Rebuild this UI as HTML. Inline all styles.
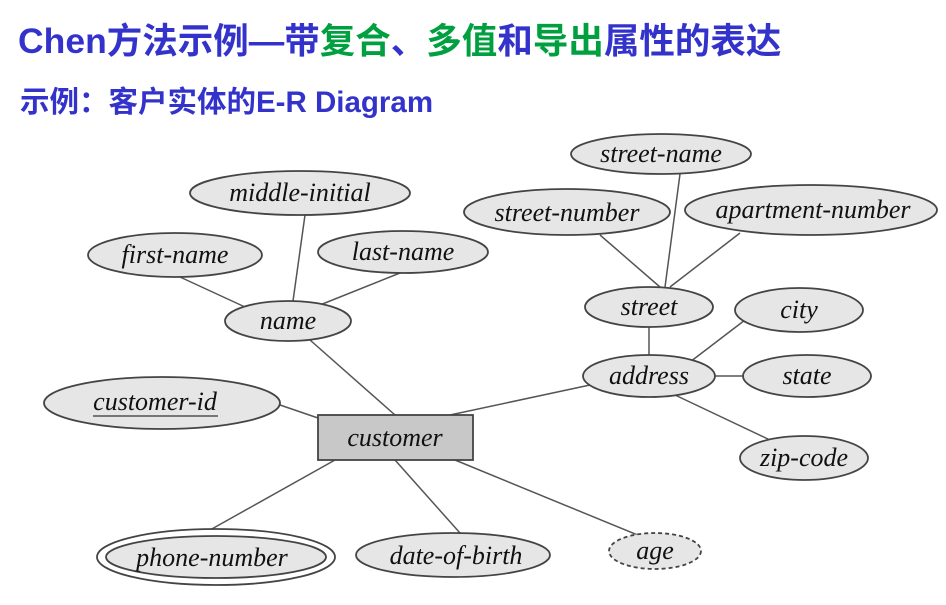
<!DOCTYPE html>
<html><head><meta charset="utf-8"><style>
body{margin:0;width:946px;height:605px;background:#fff;overflow:hidden;position:relative;font-family:"Liberation Sans","Noto Sans CJK SC",sans-serif}
.t1{position:absolute;left:18px;top:13px;font-size:35.5px;font-weight:bold;color:#3333cc;white-space:nowrap}
.g{color:#00a040}
.t2{position:absolute;left:20px;top:79px;font-size:29.5px;font-weight:bold;color:#3333cc;white-space:nowrap}
svg{position:absolute;left:0;top:0}
svg text{font-family:"Liberation Serif",serif;font-style:italic;font-size:26px;fill:#111;text-anchor:middle}
</style></head><body>
<div class="t1">Chen方法示例—带<span class="g">复合</span>、<span class="g">多值</span>和<span class="g">导出</span>属性的表达</div>
<div class="t2">示例：客户实体的E-R Diagram</div>
<svg width="946" height="605">
<g stroke="#555" stroke-width="1.5">
<line x1="293" y1="301" x2="305" y2="215"/>
<line x1="245" y1="307" x2="180" y2="277"/>
<line x1="320" y1="305" x2="400" y2="273"/>
<line x1="310" y1="340" x2="395" y2="415"/>
<line x1="280" y1="405" x2="318" y2="418"/>
<line x1="335" y1="460" x2="210" y2="530"/>
<line x1="395" y1="460" x2="460" y2="533"/>
<line x1="455" y1="460" x2="640" y2="536"/>
<line x1="450" y1="415" x2="590" y2="385"/>
<line x1="665" y1="287" x2="680" y2="174"/>
<line x1="660" y1="287" x2="600" y2="235"/>
<line x1="670" y1="287" x2="740" y2="233"/>
<line x1="649" y1="327" x2="649" y2="355"/>
<line x1="690" y1="362" x2="745" y2="320"/>
<line x1="715" y1="376" x2="743" y2="376"/>
<line x1="675" y1="395" x2="770" y2="440"/>
</g>
<g fill="#e6e6e6" stroke="#444" stroke-width="1.8">
<ellipse cx="300" cy="193" rx="110" ry="22"/>
<ellipse cx="175" cy="255" rx="87" ry="22"/>
<ellipse cx="403" cy="252" rx="85" ry="21"/>
<ellipse cx="288" cy="321" rx="63" ry="20"/>
<ellipse cx="162" cy="403" rx="118" ry="26"/>
<ellipse cx="216" cy="557" rx="119" ry="28" fill="#fff"/>
<ellipse cx="216" cy="557" rx="110" ry="21"/>
<ellipse cx="453" cy="555" rx="97" ry="22"/>
<ellipse cx="655" cy="551" rx="46" ry="18" stroke-dasharray="4 3"/>
<ellipse cx="661" cy="154" rx="90" ry="20"/>
<ellipse cx="567" cy="212" rx="103" ry="23"/>
<ellipse cx="811" cy="210" rx="126" ry="25"/>
<ellipse cx="649" cy="307" rx="64" ry="20"/>
<ellipse cx="799" cy="310" rx="64" ry="22"/>
<ellipse cx="649" cy="376" rx="66" ry="21"/>
<ellipse cx="807" cy="376" rx="64" ry="21"/>
<ellipse cx="804" cy="458" rx="64" ry="22"/>
<rect x="318" y="415" width="155" height="45" fill="#c8c8c8"/>
</g>
<text x="300" y="201">middle-initial</text>
<text x="175" y="263">first-name</text>
<text x="403" y="260">last-name</text>
<text x="288" y="329">name</text>
<text x="155" y="410">customer-id</text>
<line x1="93" y1="416" x2="218" y2="416" stroke="#333" stroke-width="1.2"/>
<text x="395" y="446">customer</text>
<text x="212" y="566">phone-number</text>
<text x="456" y="564">date-of-birth</text>
<text x="655" y="559">age</text>
<text x="661" y="162">street-name</text>
<text x="567" y="221">street-number</text>
<text x="813" y="218">apartment-number</text>
<text x="649" y="315">street</text>
<text x="799" y="318">city</text>
<text x="649" y="384">address</text>
<text x="807" y="384">state</text>
<text x="804" y="466">zip-code</text>
</svg>
</body></html>
